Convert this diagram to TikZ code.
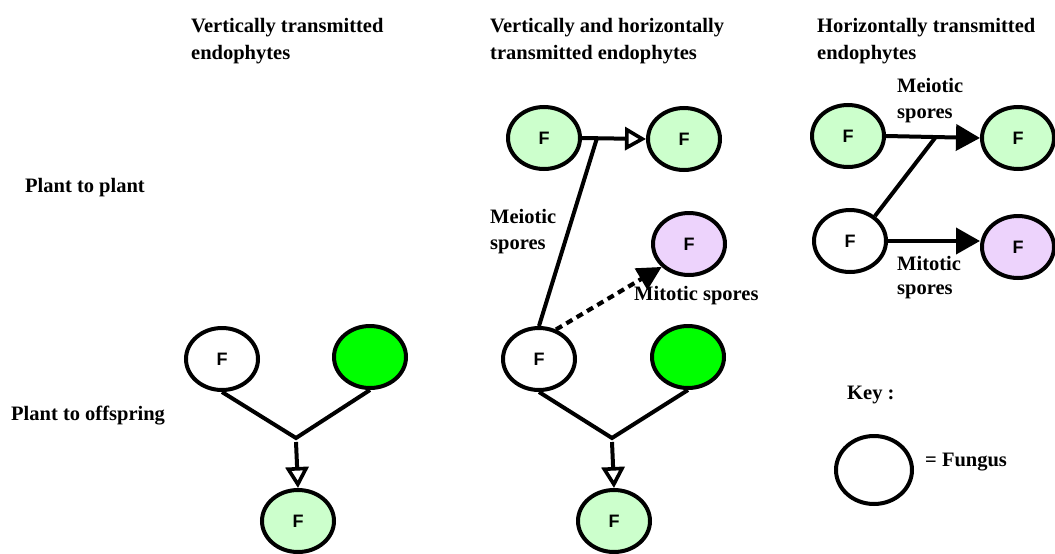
\documentclass[tikz,border=0pt]{standalone}
\usepackage{fontspec}
\setmainfont{Liberation Serif}
\newfontfamily\fsans{Liberation Sans}
\usetikzlibrary{shapes.geometric,arrows.meta}
\definecolor{lgreen}{HTML}{CCFFCC}
\definecolor{lpurple}{HTML}{EDD3FC}
\definecolor{bgreen}{HTML}{00FF00}
\begin{document}
\begin{tikzpicture}[x=1pt,y=-1pt,
  fung/.style={ellipse,draw=black,line width=4pt,minimum width=72pt,minimum height=62pt,inner sep=0pt,font=\fsans\bfseries\fontsize{18}{18}\selectfont},
  lbl/.style={anchor=base west,font=\bfseries\fontsize{20.5}{24}\selectfont,inner sep=0pt},
  con/.style={line width=4pt},
  openarr/.style={con,-{Triangle[open,length=21pt,width=23pt,line width=3.6pt]}},
  fillarr/.style={con,-{Triangle[length=24pt,width=26pt]}},
  dotarr/.style={line width=4.2pt,dash pattern=on 7pt off 5pt,-{Triangle[length=24pt,width=24pt]}}
]
\useasboundingbox (0,0) rectangle (1055,554);
% headers
\node[lbl] (h1a) at (191,32) {Vertically transmitted};
\node[lbl] (h1b) at (191,59) {endophytes};
\node[lbl] (h2a) at (490,32) {Vertically and horizontally};
\node[lbl] (h2b) at (490,59) {transmitted endophytes};
\node[lbl] (h3a) at (817,32) {Horizontally transmitted};
\node[lbl] (h3b) at (817,59) {endophytes};
\node[lbl] (r1) at (25,192) {Plant to plant};
\node[lbl] (r2) at (11,420) {Plant to offspring};
% left column
\node[fung,fill=white] (a1) at (222,359) {F};
\node[fung,fill=bgreen] (a2) at (370,357) {};
\node[fung,fill=lgreen] (a3) at (298,521) {F};
\coordinate (aj) at (296,438);
\draw[con] (a1.south) -- (aj) -- (a2.south);
\draw[openarr] (296,442) -- (a3.north);
% middle column
\node[fung,fill=lgreen] (b1) at (544,138) {F};
\node[fung,fill=lgreen] (b2) at (684,139) {F};
\node[fung,fill=lpurple] (b3) at (689,244) {F};
\node[fung,fill=white] (b4) at (539,359) {F};
\node[fung,fill=bgreen] (b5) at (688,357) {};
\node[fung,fill=lgreen] (b6) at (614,521) {F};
\coordinate (bj) at (597,138);
\coordinate (bk) at (612,438);
\draw[openarr] (b1.east) -- (b2.west);
\draw[con] (bj) -- (b4.north);
\draw[dotarr] (b4.60) -- (b3.220);
\draw[con] (b4.south) -- (bk) -- (b5.south);
\draw[openarr] (612,442) -- (b6.north);
\node[lbl] (m1a) at (490,223) {Meiotic};
\node[lbl] (m1b) at (490,249) {spores};
\node[lbl] (m2) at (634,300) {Mitotic spores};
% right column
\node[fung,fill=lgreen] (c1) at (848,136) {F};
\node[fung,fill=lgreen] (c2) at (1018,138) {F};
\node[fung,fill=white] (c3) at (850,241) {F};
\node[fung,fill=lpurple] (c4) at (1018,247) {F};
\coordinate (cj) at (935,138);
\draw[fillarr] (c1.east) -- (c2.west);
\draw[con] (cj) -- (c3.45);
\draw[fillarr] (c3.east) -- (c3.east -| c4.west);
\node[lbl] (n1a) at (897,92) {Meiotic};
\node[lbl] (n1b) at (897,118) {spores};
\node[lbl] (n2a) at (897,270) {Mitotic};
\node[lbl] (n2b) at (897,294) {spores};
% key
\node[lbl] (k1) at (847,399) {Key :};
\node[fung,fill=white,minimum width=76pt,minimum height=68pt] (k2) at (874,470) {};
\node[lbl] (k3) at (925,466) {= Fungus};
\end{tikzpicture}
\end{document}
